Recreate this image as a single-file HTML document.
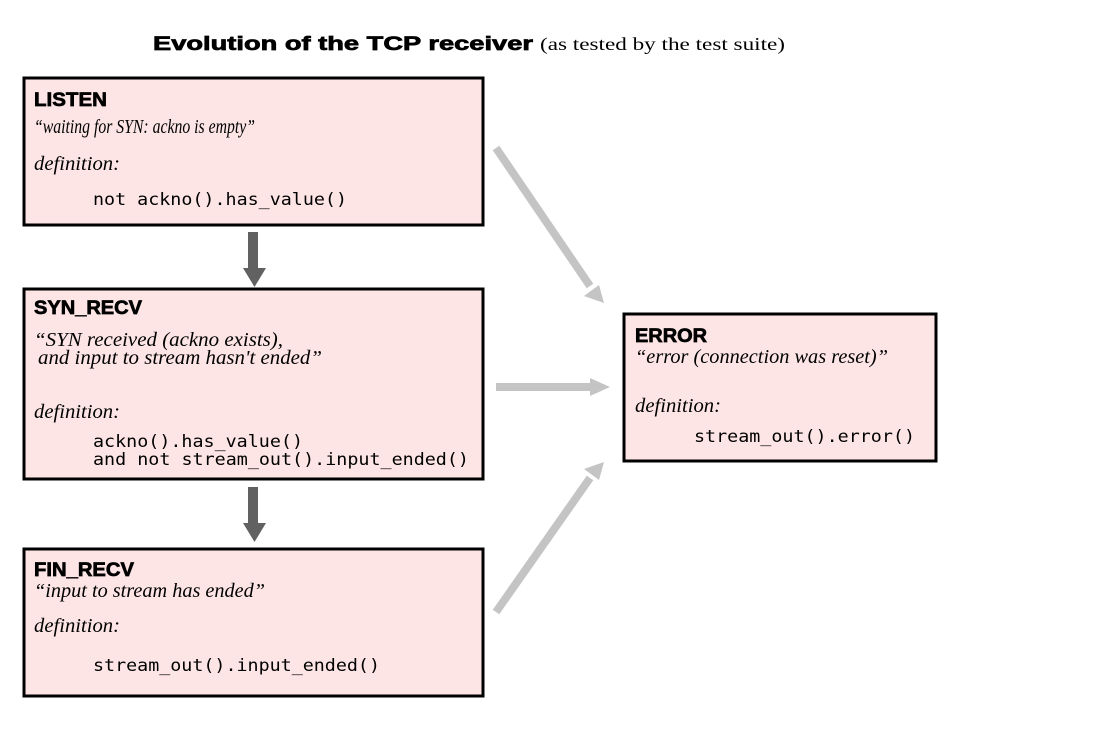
<!DOCTYPE html>
<html><head><meta charset="utf-8"><style>
html,body{margin:0;padding:0;background:#fff}
svg{display:block}
.t{font-family:"Liberation Sans",Arial,sans-serif;font-weight:bold;font-size:19px;stroke:#000;stroke-width:0.7}
.i{font-family:"Liberation Serif",serif;font-style:italic;font-size:20px}
.m{font-family:"DejaVu Sans Mono","Liberation Mono",monospace;font-size:17px}
</style></head><body>
<svg width="1094" height="737" viewBox="0 0 1094 737" xmlns="http://www.w3.org/2000/svg">
<text x="153" y="50" class="t" font-size="20" textLength="380" lengthAdjust="spacingAndGlyphs">Evolution of the TCP receiver</text>
<text x="540" y="50" font-family="Liberation Serif,serif" font-size="18" textLength="245" lengthAdjust="spacingAndGlyphs">(as tested by the test suite)</text>

<g fill="#fde5e5" stroke="#000" stroke-width="3">
<rect x="24" y="78" width="459" height="147"/>
<rect x="24" y="289" width="459" height="190"/>
<rect x="24" y="549" width="459" height="147"/>
<rect x="624" y="314" width="312" height="147"/>
</g>

<g fill="#616161">
<rect x="248" y="232" width="10" height="37"/>
<polygon points="243,268 266,268 254.5,287"/>
<rect x="248" y="487" width="10" height="37"/>
<polygon points="243,523 266,523 254.5,542"/>
</g>

<g stroke="#c4c4c4" stroke-width="8" fill="#c4c4c4">
<line x1="496" y1="148" x2="590" y2="286"/>
<line x1="496" y1="387" x2="592" y2="387"/>
<line x1="496" y1="612" x2="590" y2="478"/>
</g>
<g fill="#c4c4c4">
<polygon points="604,303 584,296 599,285"/>
<polygon points="610,387 590,378 590,396"/>
<polygon points="604,462 599,480 584,469"/>
</g>

<text x="34" y="106" class="t" textLength="73" lengthAdjust="spacingAndGlyphs">LISTEN</text>
<text x="34" y="133" class="i" font-size="18" textLength="221" lengthAdjust="spacingAndGlyphs">“waiting for SYN: ackno is empty”</text>
<text x="34" y="170" class="i" textLength="86" lengthAdjust="spacingAndGlyphs">definition:</text>
<text x="93" y="205" class="m" textLength="254" lengthAdjust="spacingAndGlyphs">not ackno().has_value()</text>

<text x="34" y="314" class="t" textLength="108" lengthAdjust="spacingAndGlyphs">SYN_RECV</text>
<text x="34" y="346" class="i" textLength="249" lengthAdjust="spacingAndGlyphs">“SYN received (ackno exists),</text>
<text x="38" y="364" class="i" textLength="284" lengthAdjust="spacingAndGlyphs">and input to stream hasn't ended”</text>
<text x="34" y="418" class="i" textLength="86" lengthAdjust="spacingAndGlyphs">definition:</text>
<text x="93" y="447" class="m" textLength="210" lengthAdjust="spacingAndGlyphs">ackno().has_value()</text>
<text x="93" y="465" class="m" textLength="376" lengthAdjust="spacingAndGlyphs">and not stream_out().input_ended()</text>

<text x="34" y="576" class="t" textLength="100" lengthAdjust="spacingAndGlyphs">FIN_RECV</text>
<text x="34" y="597" class="i" textLength="231" lengthAdjust="spacingAndGlyphs">“input to stream has ended”</text>
<text x="34" y="632" class="i" textLength="86" lengthAdjust="spacingAndGlyphs">definition:</text>
<text x="93" y="671" class="m" textLength="287" lengthAdjust="spacingAndGlyphs">stream_out().input_ended()</text>

<text x="635" y="342" class="t" textLength="72" lengthAdjust="spacingAndGlyphs">ERROR</text>
<text x="635" y="363" class="i" textLength="253" lengthAdjust="spacingAndGlyphs">“error (connection was reset)”</text>
<text x="635" y="412" class="i" textLength="86" lengthAdjust="spacingAndGlyphs">definition:</text>
<text x="694" y="442" class="m" textLength="221" lengthAdjust="spacingAndGlyphs">stream_out().error()</text>
</svg>
</body></html>
